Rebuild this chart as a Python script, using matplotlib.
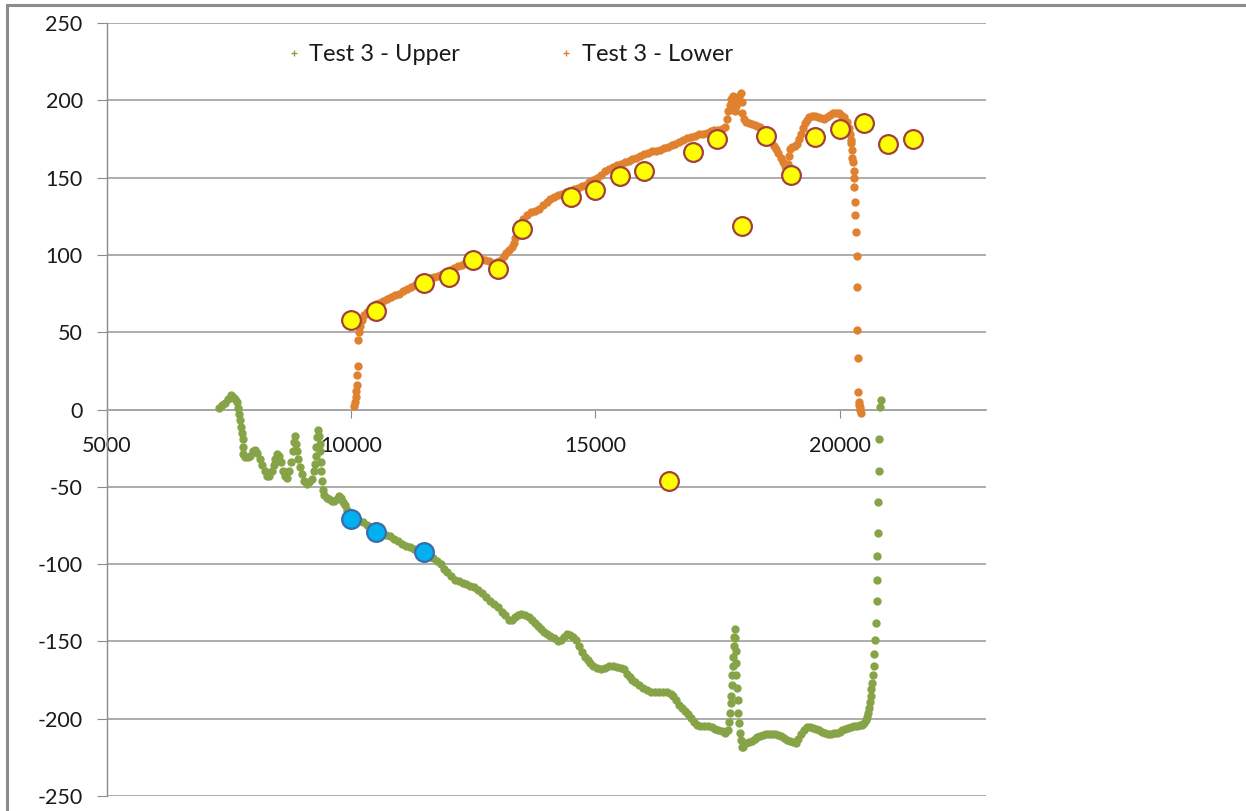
import matplotlib
matplotlib.use("Agg")
import matplotlib.pyplot as plt
from matplotlib.lines import Line2D

plt.rcParams['font.family'] = ['Lato', 'DejaVu Sans']

# ---- Test 3 - Upper (continuous trace) ----
upper_x = [
    7300, 7350, 7420, 7480, 7540, 7580, 7630, 7670, 7690, 7710, 7730, 7750, 7765, 7775, 7785, 7795,
    7830, 7880, 7930, 7980, 8030, 8080, 8130, 8180, 8230, 8280, 8320, 8370, 8410, 8450, 8490, 8530,
    8570, 8610, 8650, 8690, 8730, 8770, 8800, 8830, 8850, 8870, 8895, 8920, 8950, 8990, 9040, 9090,
    9140, 9190, 9230, 9260, 9275, 9290, 9305, 9320, 9340, 9355, 9365, 9375, 9385, 9400, 9420, 9450,
    9500, 9550, 9600, 9650, 9700, 9750, 9790, 9830, 9870, 9920, 9960, 10000, 10080, 10160, 10240,
    10320, 10400, 10480, 10560, 10640, 10720, 10800, 10880, 10960, 11040, 11120, 11200, 11280, 11360,
    11440, 11520, 11600, 11680, 11760, 11840, 11900, 11960, 12040, 12120, 12200, 12280, 12360, 12440,
    12520, 12600, 12680, 12760, 12840, 12920, 13000, 13080, 13160, 13240, 13300, 13360, 13420, 13480,
    13560, 13640, 13700, 13760, 13820, 13880, 13940, 14000, 14080, 14160, 14240, 14300, 14360, 14420,
    14480, 14540, 14600, 14660, 14720, 14780, 14840, 14900, 14960, 15040, 15120, 15200, 15280, 15360,
    15440, 15520, 15580, 15640, 15700, 15760, 15820, 15900, 15980, 16060, 16140, 16220, 16300, 16380,
    16460, 16540, 16600, 16660, 16720, 16780, 16840, 16900, 16960, 17020, 17080, 17150, 17230, 17300,
    17380, 17450, 17520, 17590, 17660, 17710, 17740, 17760, 17775, 17785, 17795, 17805, 17815, 17825,
    17835, 17845, 17855, 17865, 17872, 17880, 17890, 17900, 17915, 17930, 17950, 17970, 17990, 18010,
    18030, 18080, 18140, 18200, 18260, 18320, 18380, 18440, 18500, 18560, 18620, 18680, 18740, 18800,
    18860, 18920, 18980, 19040, 19100, 19160, 19220, 19280, 19340, 19400, 19460, 19520, 19580, 19640,
    19700, 19760, 19820, 19880, 19940, 20000, 20060, 20120, 20180, 20240, 20300, 20360, 20420, 20470,
    20510, 20540, 20560, 20580, 20600, 20620, 20640, 20655, 20670, 20685, 20700, 20715, 20730, 20745,
    20760, 20770, 20778, 20782, 20790, 20800, 20805, 20823, 20840,
]
upper_y = [
    1, 3, 4.5, 7, 9.5, 8, 7, 5, 1, -3, -7, -11, -15, -19, -24, -29,
    -31, -31, -30, -27, -26, -28, -32, -36, -40, -43, -43, -40, -36, -32, -29, -30,
    -34, -40, -43, -44, -40, -34, -27, -21, -17, -22, -27, -32, -37, -42, -46, -48.5,
    -47, -45, -40, -35, -30, -24, -18, -13, -17, -22, -27, -34, -40, -46, -52, -55,
    -57, -58, -59, -59.5, -58, -56, -57, -60, -62, -65, -67, -69, -70, -72, -73,
    -75, -76, -77, -79, -80, -81, -82, -84, -85, -87, -88, -89, -90, -91,
    -92, -93, -94, -96, -98, -100, -103, -105, -108, -110, -111, -112, -113, -114,
    -115, -117, -119, -121, -124, -126, -128, -131, -133, -136, -136, -134, -133, -132.5,
    -133, -134, -136, -138, -140, -142, -144, -145.5, -146.5, -148, -150, -149, -147, -145.5,
    -146, -147, -149, -153, -157, -160, -162, -164, -166, -167.5, -168, -167, -166, -166,
    -166.5, -167, -168, -171, -173, -175, -176.5, -178, -180, -181.5, -183, -183, -183, -182.5,
    -183, -184, -185.5, -188, -191, -193, -195, -197, -199.5, -202, -204, -205, -204.5, -205,
    -205.5, -206.5, -207, -208, -209, -207, -202, -196, -190, -185, -178, -172, -166, -160,
    -153, -147, -142, -148, -156, -164, -172, -180, -188, -196, -203, -209, -214, -218,
    -218, -216, -215, -214.5, -213, -212, -211, -210.5, -210, -210, -210, -210, -210.5, -211.5,
    -212.5, -213.5, -214.5, -215, -215.5, -213, -210, -207, -205.5, -205.5, -206, -206.5, -207.5, -208.5,
    -209.5, -210, -210, -209.5, -209, -208.5, -207.5, -206.5, -206, -205.5, -205, -204.5, -204, -204,
    -203, -201, -199, -196, -193, -189, -185, -181, -177, -172, -166, -158, -149, -138,
    -124, -110, -95, -80, -60, -40, -19, 1.3, 6,
]

# ---- Test 3 - Lower (continuous trace) ----
lower_x = [
    10067, 10080, 10094, 10105, 10115, 10125, 10135, 10149, 10170, 10190, 10218, 10260, 10320, 10380,
    10440, 10500, 10580, 10660, 10740, 10820, 10900, 10980, 11060, 11140, 11220, 11300, 11380, 11460,
    11540, 11620, 11700, 11780, 11860, 11940, 12020, 12100, 12180, 12260, 12340, 12420, 12500, 12580,
    12660, 12740, 12820, 12900, 12980, 13060, 13120, 13170, 13230, 13290, 13330, 13360, 13390, 13420,
    13460, 13520, 13600, 13680, 13760, 13840, 13920, 14000, 14080, 14160, 14240, 14320, 14400, 14480,
    14560, 14640, 14720, 14800, 14880, 14960, 15040, 15120, 15200, 15280, 15360, 15440, 15520, 15600,
    15680, 15760, 15840, 15920, 16000, 16080, 16160, 16240, 16320, 16400, 16480, 16560, 16640, 16720,
    16800, 16880, 16960, 17040, 17120, 17200, 17280, 17360, 17440, 17520, 17600, 17650, 17690, 17720,
    17750, 17780, 17810, 17840, 17860, 17890, 17920, 17950, 17975, 17995, 18010, 18040, 18080, 18140,
    18200, 18260, 18320, 18380, 18440, 18500, 18550, 18600, 18650, 18700, 18750, 18800, 18850, 18890,
    18920, 18945, 18965, 18990, 19030, 19080, 19130, 19170, 19210, 19250, 19290, 19330, 19380, 19440,
    19500, 19560, 19620, 19680, 19740, 19800, 19860, 19920, 19980, 20040, 20100, 20150, 20190, 20215,
    20235, 20245, 20255, 20265, 20278, 20292, 20300, 20307, 20313, 20327, 20334, 20362, 20365, 20368,
    20380, 20385, 20390, 20400, 20416, 20430, 20444,
]
lower_y = [
    2, 5, 8, 12, 16, 22, 28, 45, 50, 54, 58, 61, 63, 65,
    67, 68, 69, 70, 71.5, 72.5, 74, 75, 76.5, 78, 79, 80.5, 81.5, 83,
    84, 85, 86, 86.5, 87.5, 89, 90, 91.5, 92.5, 93.5, 94.5, 95.5, 96.5, 97,
    97.5, 97, 96, 95, 95.5, 96.5, 99, 101.5, 103, 105, 108, 111, 115, 118,
    120, 123, 126, 127.5, 128.5, 130, 132, 134, 136, 137.5, 138.5, 139.5, 140.5, 141.5,
    142.5, 143.5, 144.5, 145.5, 147, 148.5, 150, 152, 154, 155.5, 157, 158, 159, 160,
    161, 162, 163, 164, 165, 166, 167, 167.5, 168, 169, 170, 171, 172, 173,
    174, 175.5, 176.5, 177, 178, 178.5, 179, 180, 180.5, 181, 181.5, 183, 188, 193,
    197, 201, 202.5, 197, 193, 196, 200, 203, 205, 199, 192, 188, 186, 185,
    184.5, 184, 183.5, 182.5, 181, 178.5, 176, 173, 170.5, 168.5, 166, 163, 160, 157.5,
    156, 159, 164, 168.5, 170, 170.5, 171.5, 175, 178.5, 182, 185, 187.5, 189, 190,
    190, 189.5, 188.5, 188, 189.5, 190.5, 191.5, 192, 191.5, 190.5, 189, 186, 182, 178,
    174, 172.7, 168, 163, 159.8, 154, 150, 143.6, 134, 125.5, 115, 99, 79, 51.7,
    33.6, 11.6, 5, 3, 1.3, -0.5, -2,
]

# ---- Reference readings ----
lower_ref_x = [10000, 10500, 11500, 12000, 12500, 13000, 13500, 14500, 15000, 15500, 16000,
               16500, 17000, 17500, 18000, 18500, 19000, 19500, 20000, 20500, 21000, 21500]
lower_ref_y = [58, 64, 82, 86, 97, 91, 117, 137.5, 142, 150.8, 154,
               -46, 166.5, 174.7, 119, 176.7, 151.5, 176, 181.5, 185.6, 172, 174.7]

upper_ref_x = [10000, 10500, 11500]
upper_ref_y = [-71, -79, -92]

legend_labels = ["Test 3 - Upper", "Test 3 - Lower"]
x_ticks = [5000, 10000, 15000, 20000]
y_ticks = [-250, -200, -150, -100, -50, 0, 50, 100, 150, 200, 250]

GREEN = "#86A447"
ORANGE = "#E0812F"
GRID = "#A6A6A6"

fig = plt.figure(figsize=(12.46, 8.11), dpi=100)
ax = fig.add_axes([107 / 1246, 1 - 796 / 811, 879 / 1246, 773 / 811])

ax.plot(upper_x, upper_y, ls="none", marker="o", ms=5.0, color=GREEN, mec=GREEN, zorder=3)
ax.plot(lower_x, lower_y, ls="none", marker="o", ms=5.0, color=ORANGE, mec=ORANGE, zorder=3)
ax.plot(lower_ref_x, lower_ref_y, ls="none", marker="o", ms=13.5, mfc="#FFFF00",
        mec="#A2403C", mew=1.6, zorder=4)
ax.plot(upper_ref_x, upper_ref_y, ls="none", marker="o", ms=13.5, mfc="#00B0F0",
        mec="#3B6DA8", mew=1.6, zorder=4)

ax.set_xlim(5000, 23000)
ax.set_ylim(-250, 250)
ax.set_xticks(x_ticks)
ax.set_yticks(y_ticks)
ax.set_xticklabels([str(v) for v in x_ticks])
ax.set_yticklabels([str(v) for v in y_ticks])

ax.grid(axis="y", color=GRID, lw=1.3, zorder=1)
ax.set_axisbelow(True)
for s in ("top", "right"):
    ax.spines[s].set_visible(False)
ax.spines["left"].set_color("#8C8C8C")
ax.spines["left"].set_linewidth(1.0)
ax.spines["bottom"].set_position(("data", 0))
ax.spines["bottom"].set_color(GRID)
ax.spines["bottom"].set_linewidth(1.3)

ax.tick_params(axis="y", direction="out", length=7.5, width=0.8, color="#8C8C8C",
               pad=10, labelsize=15.5, labelcolor="#1A1A1A")
ax.tick_params(axis="x", direction="out", length=6, width=0.8, color="#8C8C8C",
               pad=13, labelsize=15.5, labelcolor="#1A1A1A")

handles = [Line2D([], [], ls="none", marker="+", ms=5, mew=1.0, color=GREEN),
           Line2D([], [], ls="none", marker="+", ms=5, mew=1.0, color=ORANGE)]
ax.legend(handles, legend_labels, loc="center", bbox_to_anchor=(0.457, 0.959), ncol=2,
          frameon=False, fontsize=17, handlelength=0.8, handletextpad=0.25,
          columnspacing=4.1, labelcolor="#1A1A1A")

# chart frame
fig.add_artist(Line2D([7 / 1246, 7 / 1246], [0, 1 - 5 / 811], color="#8C8C8C", lw=2.2))
fig.add_artist(Line2D([7 / 1246, 1], [1 - 5 / 811, 1 - 5 / 811], color="#8C8C8C", lw=2.2))

fig.savefig("out.png", dpi=100, facecolor="white")
